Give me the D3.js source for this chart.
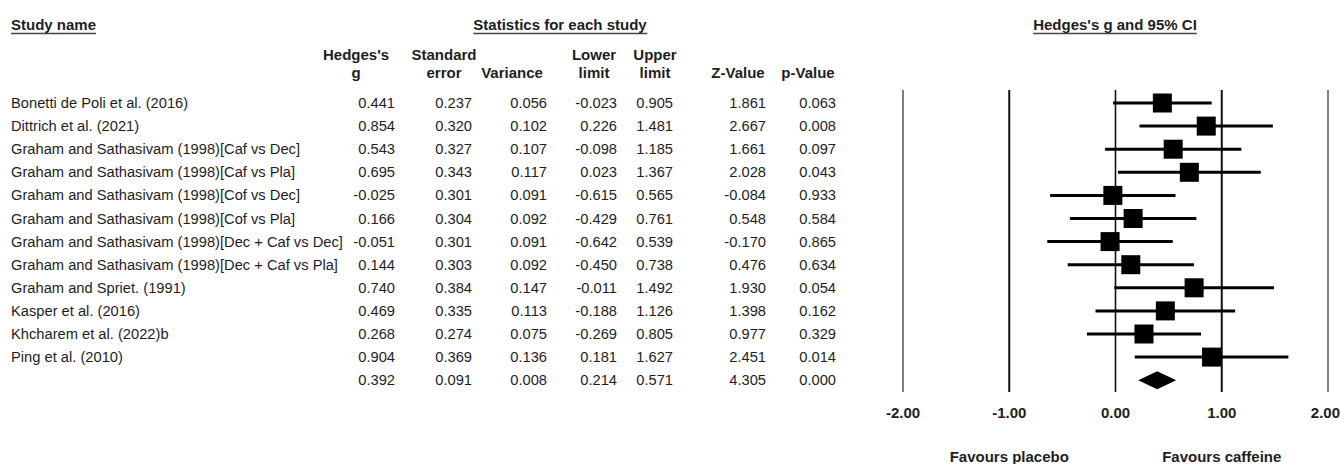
<!DOCTYPE html>
<html>
<head>
<meta charset="utf-8">
<script src="https://cdn.jsdelivr.net/npm/d3@7"></script>
<style>
  html, body { margin: 0; padding: 0; background: #fff; }
  svg { display: block; }
  text { font-family: "Liberation Sans", Arial, sans-serif; fill: #1e1e1e; }
</style>
</head>
<body>
<svg id="chart" width="1341" height="464"></svg>
<script>
// ---- data ----
const studies = [
  "Bonetti de Poli et al. (2016)",
  "Dittrich et al. (2021)",
  "Graham and Sathasivam (1998)[Caf vs Dec]",
  "Graham and Sathasivam (1998)[Caf vs Pla]",
  "Graham and Sathasivam (1998)[Cof vs Dec]",
  "Graham and Sathasivam (1998)[Cof vs Pla]",
  "Graham and Sathasivam (1998)[Dec + Caf vs Dec]",
  "Graham and Sathasivam (1998)[Dec + Caf vs Pla]",
  "Graham and Spriet. (1991)",
  "Kasper et al. (2016)",
  "Khcharem et al. (2022)b",
  "Ping et al. (2010)"
];
const hedgesG = [0.441, 0.854, 0.543, 0.695, -0.025, 0.166, -0.051, 0.144, 0.740, 0.469, 0.268, 0.904];
const stdErr  = [0.237, 0.320, 0.327, 0.343, 0.301, 0.304, 0.301, 0.303, 0.384, 0.335, 0.274, 0.369];
const variance= [0.056, 0.102, 0.107, 0.117, 0.091, 0.092, 0.091, 0.092, 0.147, 0.113, 0.075, 0.136];
const lowerL  = [-0.023, 0.226, -0.098, 0.023, -0.615, -0.429, -0.642, -0.450, -0.011, -0.188, -0.269, 0.181];
const upperL  = [0.905, 1.481, 1.185, 1.367, 0.565, 0.761, 0.539, 0.738, 1.492, 1.126, 0.805, 1.627];
const zValue  = [1.861, 2.667, 1.661, 2.028, -0.084, 0.548, -0.170, 0.476, 1.930, 1.398, 0.977, 2.451];
const pValue  = [0.063, 0.008, 0.097, 0.043, 0.933, 0.584, 0.865, 0.634, 0.054, 0.162, 0.329, 0.014];
const summary = {g: 0.392, se: 0.091, variance: 0.008, lower: 0.214, upper: 0.571, z: 4.305, p: 0.000};
const tickValues = [-2, -1, 0, 1, 2];
const tickLabels = ["-2.00", "-1.00", "0.00", "1.00", "2.00"];
const favourLabels = ["Favours placebo", "Favours caffeine"];
const favourAt = [-1, 1];

// ---- layout ----
const W = 1341;
const svg = d3.select("#chart");
const loc = d3.formatLocale({decimal: ".", thousands: ",", grouping: [3], currency: ["", ""], minus: "-"});
const f3 = loc.format(".3f");

const nRows = studies.length + 1;
const y = d3.scaleLinear().domain([0, nRows - 1]).range([103, 380.2]);
const x = d3.scaleLinear().domain([-2, 2]).range([903, 1328]);

const FS = 14.7;   // regular text
const FB = 15;     // bold text

// Section titles (underlined)
function titleU(txt, xpos, anchor) {
  const t = svg.append("text").attr("x", xpos).attr("y", 30)
    .attr("text-anchor", anchor).attr("font-size", FB).attr("font-weight", "bold")
    .attr("fill", "#1e1e1e").text(txt);
  const bb = t.node().getBBox();
  svg.append("line").attr("x1", bb.x).attr("x2", bb.x + bb.width)
    .attr("y1", 33.5).attr("y2", 33.5).attr("stroke", "#444").attr("stroke-width", 1.5);
}
titleU("Study name", 11, "start");
titleU("Statistics for each study", 560, "middle");
titleU("Hedges's g and 95% CI", 1115, "middle");

// Column definitions: right edge for values, header lines
const columns = [
  {right: 395, hdr: ["Hedges's", "g"], vals: hedgesG, s: summary.g},
  {right: 472, hdr: ["Standard", "error"], vals: stdErr, s: summary.se},
  {right: 547, hdr: ["", "Variance"], vals: variance, s: summary.variance},
  {right: 617, hdr: ["Lower", "limit"], vals: lowerL, s: summary.lower},
  {right: 673, hdr: ["Upper", "limit"], vals: upperL, s: summary.upper},
  {right: 766, hdr: ["", "Z-Value"], vals: zValue, s: summary.z},
  {right: 836, hdr: ["", "p-Value"], vals: pValue, s: summary.p}
];
const hdrCenters = [356, 444, 512, 594, 655, 738, 808];

columns.forEach((c, ci) => {
  c.hdr.forEach((h, hi) => {
    if (!h) return;
    svg.append("text").attr("x", hdrCenters[ci]).attr("y", hi === 0 ? 60 : 78)
      .attr("text-anchor", "middle").attr("font-size", FB).attr("font-weight", "bold")
      .text(h);
  });
  const all = c.vals.concat([c.s]);
  svg.selectAll(null).data(all).enter().append("text")
    .attr("x", c.right).attr("y", (d, i) => y(i) + 5)
    .attr("text-anchor", "end").attr("font-size", FS).attr("fill", "#2a2a2a")
    .text(d => f3(d));
});

// Study names
svg.selectAll(null).data(studies).enter().append("text")
  .attr("x", 11).attr("y", (d, i) => y(i) + 5)
  .attr("font-size", FS).attr("fill", "#2a2a2a").text(d => d);

// Forest plot reference lines
const yTop = 90, yBot = 392;
svg.selectAll(null).data(tickValues).enter().append("line")
  .attr("x1", d => x(d)).attr("x2", d => x(d))
  .attr("y1", yTop).attr("y2", yBot)
  .attr("stroke", d => Math.abs(d) === 2 ? "#555" : "#111")
  .attr("stroke-width", d => Math.abs(d) === 2 ? 1.5 : (d === 0 ? 1.6 : 2));

// CI lines
const rows = studies.map((s, i) => ({i, g: hedgesG[i], lo: lowerL[i], hi: upperL[i]}));
svg.selectAll(null).data(rows).enter().append("line")
  .attr("x1", d => x(d.lo)).attr("x2", d => x(d.hi))
  .attr("y1", d => y(d.i)).attr("y2", d => y(d.i))
  .attr("stroke", "#000").attr("stroke-width", 3);

// Squares
const SQ = 19;
svg.selectAll(null).data(rows).enter().append("rect")
  .attr("x", d => x(d.g) - SQ / 2).attr("y", d => y(d.i) - SQ / 2)
  .attr("width", SQ).attr("height", SQ).attr("fill", "#000");

// Summary diamond
const ys = y(studies.length);
svg.append("path")
  .attr("d", d3.line()([
    [x(summary.lower), ys], [x(summary.g), ys - 9],
    [x(summary.upper), ys], [x(summary.g), ys + 9]
  ]) + "Z")
  .attr("fill", "#000");

// Tick labels (last one kept inside the page edge)
svg.selectAll(null).data(tickValues).enter().append("text")
  .attr("x", d => x(d) === x(2) ? W - 1 : x(d)).attr("y", 418)
  .attr("text-anchor", d => x(d) === x(2) ? "end" : "middle")
  .attr("font-size", FB).attr("font-weight", "bold")
  .text((d, i) => tickLabels[i]);

// Favours labels
svg.selectAll(null).data(favourLabels).enter().append("text")
  .attr("x", (d, i) => x(favourAt[i])).attr("y", 462)
  .attr("text-anchor", "middle").attr("font-size", FB).attr("font-weight", "bold")
  .text(d => d);
</script>
</body>
</html>
